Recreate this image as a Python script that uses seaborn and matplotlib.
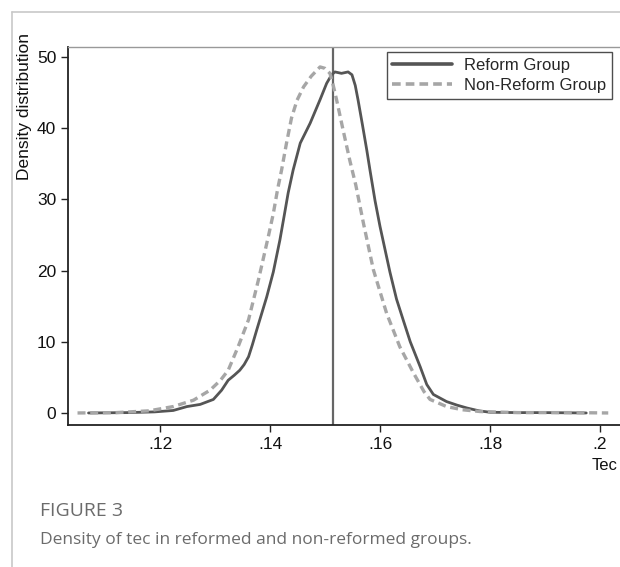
import pandas as pd
import matplotlib.pyplot as plt
import seaborn as sns
from matplotlib.lines import Line2D

# --- values ---
reform_x = [0.107, 0.114, 0.119, 0.1224, 0.1249, 0.1273, 0.1297, 0.1312, 0.1324, 0.1335,
            0.1345, 0.1353, 0.1361, 0.1368, 0.1376, 0.1385, 0.1394, 0.1406, 0.1418, 0.1426,
            0.1433, 0.1442, 0.1455, 0.1473, 0.1491, 0.1503, 0.1512, 0.1518, 0.1530, 0.1542,
            0.1549, 0.1555, 0.1560, 0.1568, 0.1576, 0.1582, 0.1591, 0.1600, 0.1618, 0.1630,
            0.1642, 0.1655, 0.1673, 0.1685, 0.1697, 0.1721, 0.1740, 0.1758, 0.1780, 0.1800,
            0.1850, 0.1900, 0.1975]
reform_y = [0, 0.05, 0.15, 0.35, 0.9, 1.2, 1.9, 3.2, 4.6, 5.3,
            6.0, 6.8, 7.9, 9.6, 11.7, 14.0, 16.3, 19.8, 24.3, 27.8,
            30.9, 34.1, 37.9, 40.7, 44.0, 46.3, 47.5, 47.9, 47.7, 47.9,
            47.5, 46.0, 44.0, 40.5, 36.9, 34.0, 29.8, 26.2, 19.8, 16.0,
            13.1, 10.0, 6.5, 4.0, 2.6, 1.6, 1.1, 0.7, 0.3, 0.1,
            0.05, 0.05, 0]

non_x = [0.105, 0.112, 0.118, 0.1224, 0.1261, 0.1291, 0.1310, 0.1324, 0.1342, 0.1361,
         0.1379, 0.1397, 0.1406, 0.1414, 0.1421, 0.1430, 0.1439, 0.1449, 0.1461, 0.1475,
         0.1491, 0.1500, 0.1509, 0.1515, 0.1521, 0.1533, 0.1545, 0.1556, 0.1570, 0.1588,
         0.1612, 0.1636, 0.1661, 0.1680, 0.1691, 0.1721, 0.1750, 0.1782, 0.1850, 0.1950,
         0.2015]
non_y = [0, 0.05, 0.3, 0.9, 1.8, 3.2, 4.6, 6.0, 9.3, 13.1,
         18.7, 24.8, 28.0, 31.5, 34.1, 37.9, 41.4, 43.9, 45.8, 47.3,
         48.6, 48.4, 47.7, 46.0, 44.0, 39.7, 35.5, 32.0, 26.6, 20.1,
         14.0, 9.3, 5.6, 3.0, 1.9, 0.9, 0.45, 0.2, 0.05, 0.05,
         0]

groups = ["Reform Group", "Non-Reform Group"]
cutoff = 0.1515
x_ticks = [0.12, 0.14, 0.16, 0.18, 0.2]
x_ticklabels = [".12", ".14", ".16", ".18", ".2"]
y_ticks = [0, 10, 20, 30, 40, 50]

df = pd.concat([
    pd.DataFrame({"tec": reform_x, "density": reform_y, "group": groups[0]}),
    pd.DataFrame({"tec": non_x, "density": non_y, "group": groups[1]}),
])

sns.set_style("ticks")
plt.rcParams["font.family"] = ["Liberation Sans", "DejaVu Sans"]

fig = plt.figure(figsize=(6.2, 5.67), dpi=100)
ax = fig.add_axes([68 / 620, 1 - 425 / 567, 554 / 620, 378 / 567])

sns.lineplot(data=df, x="tec", y="density", hue="group", style="group",
             hue_order=groups, style_order=groups,
             palette={groups[0]: "#555555", groups[1]: "#a6a6a6"},
             dashes={groups[0]: "", groups[1]: (2.4, 1.4)},
             estimator=None, ax=ax)
for ln, lw in zip(ax.lines, [2.0, 2.4]):
    ln.set_linewidth(lw)
    ln.set_solid_joinstyle("round")
    ln.set_dash_joinstyle("round")

ax.axvline(cutoff, color="#666666", lw=1.6, zorder=1)

ax.set_xlim(0.10327, 0.2040)
ax.set_ylim(-1.69, 51.4)
ax.set_xticks(x_ticks)
ax.set_xticklabels(x_ticklabels)
ax.set_yticks(y_ticks)
ax.tick_params(axis="both", labelsize=12.5, length=5, width=1, color="#222222", labelcolor="#111111")
ax.set_xlabel("")
ax.set_ylabel("")
for s in ["left", "bottom"]:
    ax.spines[s].set_color("#222222")
    ax.spines[s].set_linewidth(1.3)
for s in ["top", "right"]:
    ax.spines[s].set_visible(True)
    ax.spines[s].set_color("#999999")
    ax.spines[s].set_linewidth(1.0)

handles = [Line2D([], [], color="#555555", lw=2.6),
           Line2D([], [], color="#a6a6a6", lw=2.6, dashes=(2.4, 1.4))]
leg = ax.legend(handles, groups, loc="upper right",
                bbox_to_anchor=(612 / 620, 1 - 52 / 567), bbox_transform=fig.transFigure,
                borderaxespad=0, frameon=True, fancybox=False, fontsize=12,
                handlelength=3.6, handletextpad=0.7, labelspacing=0.3,
                borderpad=0.35)
leg.get_frame().set_edgecolor("#222222")
leg.get_frame().set_linewidth(1.0)

fig.text(25 / 620, 1 - 106 / 567, "Density distribution", rotation=90,
         ha="center", va="center", fontsize=12.5, color="#111111")
fig.text(618 / 620, 1 - 466 / 567, "Tec", ha="right", va="center",
         fontsize=12, color="#111111")

# article frame
fig.add_artist(Line2D([12 / 620, 1], [1 - 12 / 567] * 2, color="#c8c8c8", lw=1.2))
fig.add_artist(Line2D([12 / 620] * 2, [0, 1 - 12 / 567], color="#c8c8c8", lw=1.2))

fig.text(40 / 620, 1 - 511 / 567, "FIGURE 3", ha="left", va="center",
         fontsize=14, color="#6b6b6b", family=["Open Sans", "DejaVu Sans"])
fig.text(40 / 620, 1 - 540 / 567, "Density of tec in reformed and non-reformed groups.",
         ha="left", va="center", fontsize=12.5, color="#6b6b6b",
         family=["Open Sans", "DejaVu Sans"])

fig.savefig("out.png", dpi=100)
